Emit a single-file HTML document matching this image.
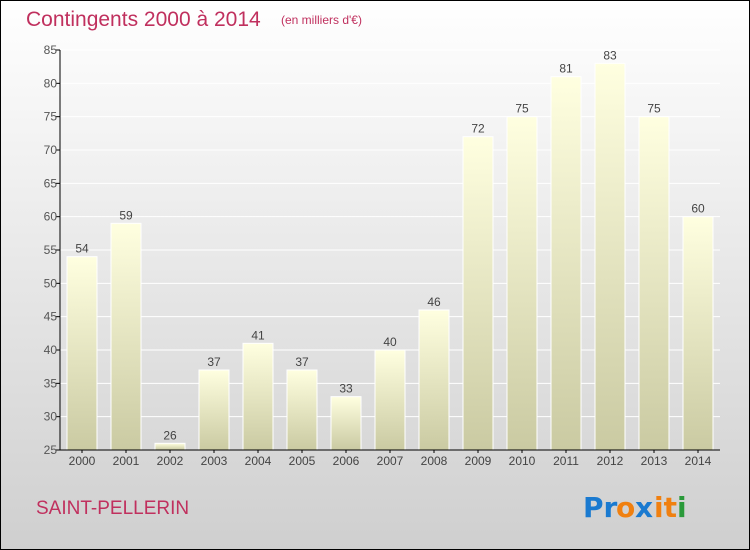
<!DOCTYPE html>
<html><head><meta charset="utf-8"><style>
body{margin:0}
svg{display:block;font-family:"Liberation Sans",sans-serif}
</style></head><body>
<svg width="750" height="550" viewBox="0 0 750 550">
<defs>
<linearGradient id="bg" x1="0" y1="0" x2="0" y2="1"><stop offset="0" stop-color="#ffffff"/><stop offset="1" stop-color="#cfcfcf"/></linearGradient>
<linearGradient id="bar" x1="0" y1="0" x2="0" y2="1"><stop offset="0" stop-color="#ffffe0"/><stop offset="1" stop-color="#cacaa2"/></linearGradient>
</defs>
<rect x="0.5" y="0.5" width="749" height="549" fill="url(#bg)" stroke="#000"/>
<text x="26" y="26" font-size="21" fill="#c0305e">Contingents 2000 à 2014</text>
<text x="281" y="24" font-size="12" fill="#c0305e">(en milliers d'€)</text>
<g id="grid"></g>
<g id="bars"></g>
<g id="axes"></g>
<text x="36" y="514" font-size="19" fill="#c0305e">SAINT-PELLERIN</text>
<g font-size="28" font-family="'DejaVu Sans',sans-serif" font-weight="bold">
<text x="583" y="517" fill="#1a7ad0">Pr</text><text x="616" y="517" fill="#f08010">o</text><text x="635" y="517" fill="#1a7ad0">x</text><text x="654" y="517" fill="#f08010">it</text><text x="677" y="517" fill="#2a9a3a">i</text>
</g>
</svg>
<script>
const years=["2000","2001","2002","2003","2004","2005","2006","2007","2008","2009","2010","2011","2012","2013","2014"];
const values=[54,59,26,37,41,37,33,40,46,72,75,81,83,75,60];
const yTicks=[25,30,35,40,45,50,55,60,65,70,75,80,85];
const NS="http://www.w3.org/2000/svg";
const x0=60,x1=720,yTop=50,yBot=450,yMin=25,yMax=85;
const step=(x1-x0)/years.length;
function y(v){return yBot-(v-yMin)/(yMax-yMin)*(yBot-yTop);}
function xc(i){return x0+step*(i+0.5);}
function mk(t,a,p){const e=document.createElementNS(NS,t);for(const k in a)e.setAttribute(k,a[k]);p.appendChild(e);return e;}
const grid=document.getElementById('grid'),bars=document.getElementById('bars'),axes=document.getElementById('axes');
yTicks.forEach(v=>{
 const g=mk('line',{x1:x0,x2:x1,y1:y(v),y2:y(v),stroke:'#ffffff','stroke-width':1},grid);
 
 
 const t=mk('line',{x1:x0-4,x2:x0,y1:y(v),y2:y(v),stroke:'#000'},axes);
 
 
 const l=mk('text',{x:x0-3,y:y(v)+4,'font-size':12,fill:'#555','text-anchor':'end'},axes);
 l.textContent=v;
 
 
});
values.forEach((v,i)=>{
 const w=30;
 const r=mk('rect',{x:xc(i)-w/2,y:y(v),width:w,height:yBot-y(v),fill:'url(#bar)',stroke:'#ffffff','stroke-width':1},bars);
 
 
 const t=mk('text',{x:xc(i),y:y(v)-4,'font-size':12,fill:'#444','text-anchor':'middle'},bars);
 t.textContent=v;
 
 
 const xl=mk('text',{x:xc(i),y:yBot+15,'font-size':12,fill:'#444','text-anchor':'middle'},axes);
 xl.textContent=years[i];
 
 
 const xt=mk('line',{x1:xc(i),x2:xc(i),y1:yBot,y2:yBot+3,stroke:'#000'},axes);
 
 
});
const ya=mk('line',{x1:x0,x2:x0,y1:yTop,y2:yBot,stroke:'#000'},axes);


const xa=mk('line',{x1:x0,x2:x1,y1:yBot,y2:yBot,stroke:'#000'},axes);


</script>
</body></html>
